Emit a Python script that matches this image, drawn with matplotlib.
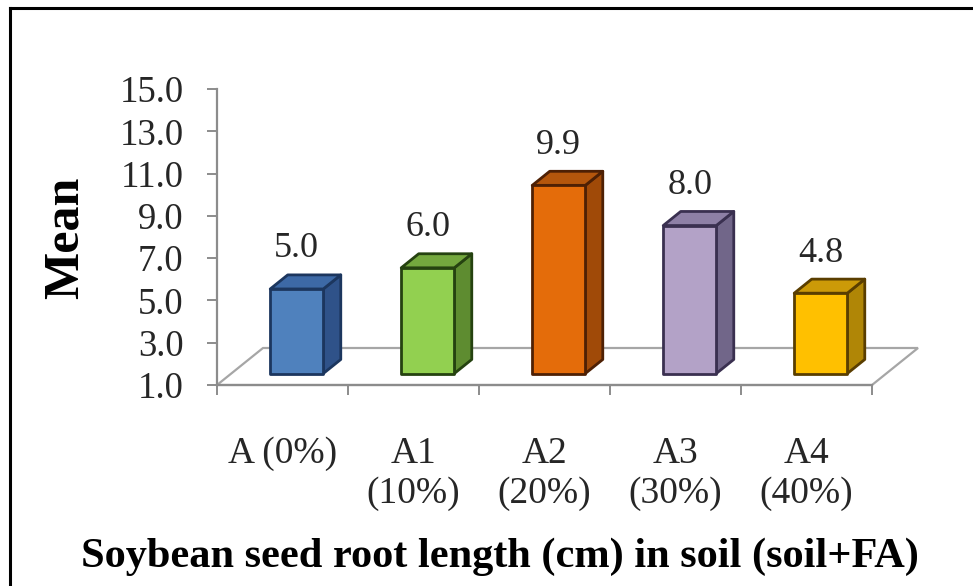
import matplotlib
matplotlib.use('Agg')
import matplotlib.pyplot as plt
from matplotlib.patches import Polygon
from matplotlib.lines import Line2D

plt.rcParams['font.family'] = ['Liberation Serif', 'DejaVu Serif']

# ---- data ----
categories = ['A (0%)', 'A1\n(10%)', 'A2\n(20%)', 'A3\n(30%)', 'A4\n(40%)']
means = [5.0, 6.0, 9.9, 8.0, 4.8]
value_labels = ['5.0', '6.0', '9.9', '8.0', '4.8']
yticks = [1, 3, 5, 7, 9, 11, 13, 15]
ytick_labels = ['1.0', '3.0', '5.0', '7.0', '9.0', '11.0', '13.0', '15.0']
front_colors = ['#4F81BD', '#92D050', '#E46C0A', '#B3A2C7', '#FFC000']
top_colors = ['#3D69A6', '#74A83E', '#B4560C', '#8E80A6', '#CC9A08']
side_colors = ['#2F5289', '#5E8C30', '#A04A08', '#716689', '#B08606']
edge_colors = ['#1C365E', '#254210', '#4E2004', '#3A3050', '#5A3E00']
ylabel = 'Mean'
xlabel = 'Soybean seed root length (cm) in soil (soil+FA)'

# ---- figure ----
W, H = 973, 586
fig = plt.figure(figsize=(W / 100, H / 100), dpi=100)
ax = fig.add_axes([217 / W, 201 / H, 655 / W, 296 / H])
ax.set_xlim(0, 5)
ax.set_ylim(1, 15)
ax.patch.set_alpha(0)

# oblique depth offsets (data units for full floor depth)
DX = 46 / 131.0
DY = 37 / (296 / 14.0)
BAR_W = 0.405
D0, D1 = 0.31, 0.69

def P(x, y, d):
    return (x + d * DX, y + d * DY)

# floor
floor = Polygon([P(0, 1, 0), P(5, 1, 0), P(5, 1, 1), P(0, 1, 1)], closed=True,
                fill=False, edgecolor='#A6A6A6', lw=1.6, clip_on=False, zorder=1)
ax.add_patch(floor)

# bars
for i, v in enumerate(means):
    c = i + 0.5
    x0, x1 = c - BAR_W / 2, c + BAR_W / 2
    ec = edge_colors[i]
    front = [P(x0, 1, D0), P(x1, 1, D0), P(x1, v, D0), P(x0, v, D0)]
    side = [P(x1, 1, D0), P(x1, 1, D1), P(x1, v, D1), P(x1, v, D0)]
    top = [P(x0, v, D0), P(x1, v, D0), P(x1, v, D1), P(x0, v, D1)]
    for poly, fc in ((side, side_colors[i]), (top, top_colors[i]), (front, front_colors[i])):
        ax.add_patch(Polygon(poly, closed=True, facecolor=fc, edgecolor=ec,
                             lw=2.0, joinstyle='round', clip_on=False, zorder=3))
    ax.annotate(value_labels[i], xy=(c + D0 * DX, v + D1 * DY), xytext=(0, 26),
                textcoords='offset pixels', ha='center', va='center',
                fontsize=26, color='#262626', zorder=4)

# axes styling
for s in ('top', 'right'):
    ax.spines[s].set_visible(False)
for s in ('left', 'bottom'):
    ax.spines[s].set_color('#8C8C8C')
    ax.spines[s].set_linewidth(1.6)
    ax.spines[s].set_zorder(2)

ax.set_yticks(yticks, ytick_labels)
ax.tick_params(axis='y', direction='out', length=7.2, width=1.4, color='#8C8C8C',
               pad=17, labelsize=26.5, labelcolor='#262626')

ax.set_xticks(range(6), [''] * 6)
ax.tick_params(axis='x', which='major', direction='out', length=7.2, width=1.4,
               color='#8C8C8C')
ax.set_xticks([i + 0.5 for i in range(len(categories))], categories, minor=True)
ax.tick_params(axis='x', which='minor', length=0, pad=37, labelsize=27,
               labelcolor='#262626')

fig.text(66 / W, 1 - 238 / H, ylabel, rotation=90, ha='center', va='center',
         fontsize=36, fontweight='bold', color='black')
fig.text(500 / W, 1 - 557 / H, xlabel, ha='center', va='center',
         fontsize=30.5, fontweight='bold', color='black')

# outer frame (left and top edges visible)
fig.add_artist(Line2D([10 / W, 10 / W], [0, 1 - 7.5 / H], transform=fig.transFigure,
                      color='black', lw=2.2))
fig.add_artist(Line2D([10 / W, 1], [1 - 7.5 / H, 1 - 7.5 / H], transform=fig.transFigure,
                      color='black', lw=2.2))

fig.savefig('out.png', dpi=100)
